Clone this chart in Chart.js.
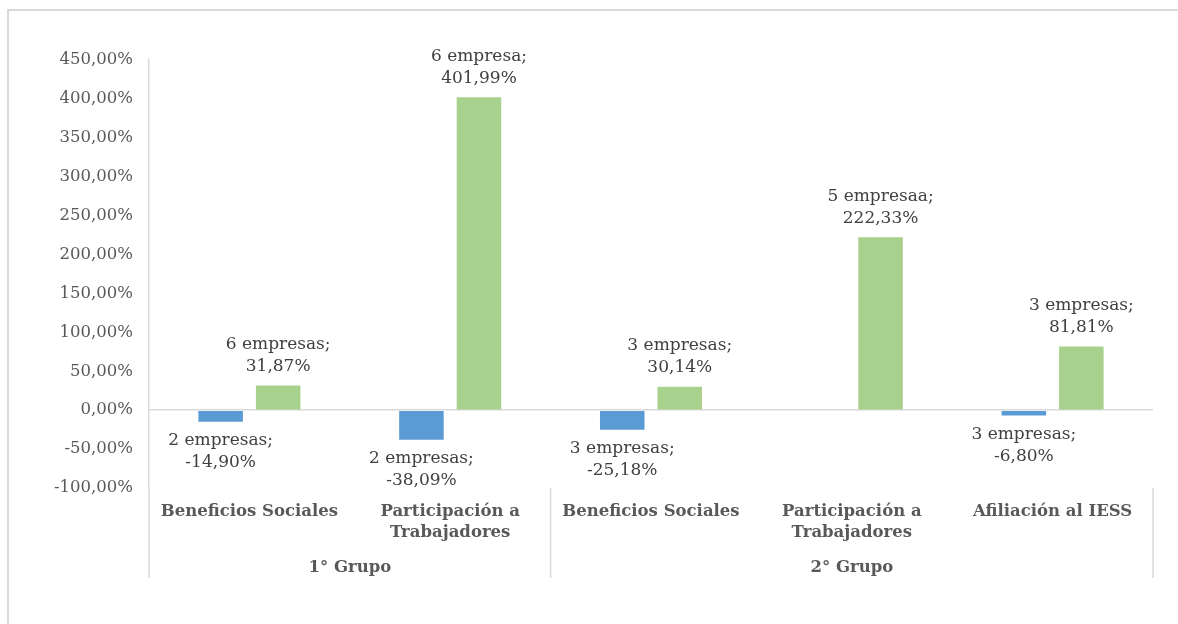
<!DOCTYPE html>
<html>
<head>
<meta charset="utf-8">
<title>Beneficios por grupo</title>
<script src="https://cdn.jsdelivr.net/npm/chart.js@4.4.1/dist/chart.umd.min.js"></script>
<style>
  html, body { margin: 0; padding: 0; background: #ffffff; overflow: hidden; }
  #wrap { position: absolute; left: 0; top: 0; width: 1178px; height: 624px; }
</style>
</head>
<body>
<div id="wrap"><canvas id="chart"></canvas></div>
<script>
// Chart data
const categoryLabels = [
  "Beneficios Sociales",
  ["Participación a", "Trabajadores"],
  "Beneficios Sociales",
  ["Participación a", "Trabajadores"],
  "Afiliación al IESS"
];
const groupNames = ["1° Grupo", "2° Grupo"];
const groupSizes = [2, 3];

const negativeValues = [-14.90, -38.09, -25.18, null, -6.80];
const positiveValues = [31.87, 401.99, 30.14, 222.33, 81.81];
const negativeCounts = ["2 empresas", "2 empresas", "3 empresas", null, "3 empresas"];
const positiveCounts = ["6 empresas", "6 empresa", "3 empresas", "5 empresaa", "3 empresas"];

const yMin = -100;
const yMax = 450;
const yStep = 50;

// Colors
const colors = {
  blue: "#5b9bd5",
  green: "#a9d18e",
  axis: "#d9d9d9",
  frame: "#d9d9d9",
  tickText: "#595959",
  labelText: "#404040"
};

const serif = "'DejaVu Serif', 'Liberation Serif', serif";

// "31.87" -> "31,87%"
function formatPct(v) {
  return v.toFixed(2).replace(".", ",") + "%";
}

// Outer chart frame (only the left and top edges fall inside the picture)
const framePlugin = {
  id: "frame",
  beforeDraw: function(chart) {
    const ctx = chart.ctx;
    ctx.save();
    ctx.strokeStyle = colors.frame;
    ctx.lineWidth = 2;
    ctx.beginPath();
    ctx.moveTo(8, chart.height);
    ctx.lineTo(8, 10);
    ctx.lineTo(chart.width, 10);
    ctx.stroke();
    ctx.restore();
  }
};

// Draws "N empresas; value" labels next to the end of each bar
const barLabelPlugin = {
  id: "barLabels",
  afterDatasetsDraw: function(chart) {
    const ctx = chart.ctx;
    ctx.save();
    ctx.font = "17px " + serif;
    ctx.fillStyle = colors.labelText;
    ctx.textAlign = "center";
    ctx.textBaseline = "middle";
    chart.data.datasets.forEach(function(ds, di) {
      const meta = chart.getDatasetMeta(di);
      meta.data.forEach(function(bar, i) {
        const v = ds.data[i];
        if (v === null || v === undefined) return;
        const first = ds.counts[i] + ";";
        const second = formatPct(v);
        if (v >= 0) {
          ctx.fillText(first, bar.x, bar.y - 41);
          ctx.fillText(second, bar.x, bar.y - 19);
        } else {
          ctx.fillText(first, bar.x, bar.y + 19);
          ctx.fillText(second, bar.x, bar.y + 41);
        }
      });
    });
    ctx.restore();
  }
};

// Second level of the category axis: group names and separators
const groupAxisPlugin = {
  id: "groupAxis",
  afterDraw: function(chart) {
    const ctx = chart.ctx;
    const area = chart.chartArea;
    const xs = chart.scales.x;
    const n = categoryLabels.length;
    const lineBottom = area.bottom + 90;

    function edge(i) {
      if (i <= 0) return area.left;
      if (i >= n) return area.right;
      return (xs.getPixelForValue(i - 1) + xs.getPixelForValue(i)) / 2;
    }

    ctx.save();
    ctx.strokeStyle = colors.axis;
    ctx.lineWidth = 1.5;
    ctx.fillStyle = colors.tickText;
    ctx.font = "bold 16.5px " + serif;
    ctx.textAlign = "center";
    ctx.textBaseline = "middle";

    let start = 0;
    const edges = [edge(0)];
    for (let g = 0; g < groupSizes.length; g++) {
      const end = start + groupSizes[g];
      const left = edge(start);
      const right = edge(end);
      edges.push(right);
      ctx.fillText(groupNames[g], (left + right) / 2, area.bottom + 80);
      start = end;
    }

    edges.forEach(function(px) {
      ctx.beginPath();
      ctx.moveTo(px, area.bottom);
      ctx.lineTo(px, lineBottom);
      ctx.stroke();
    });
    ctx.restore();
  }
};

Chart.defaults.font.family = serif;

const ctx = document.getElementById("chart").getContext("2d");
new Chart(ctx, {
  type: "bar",
  data: {
    labels: categoryLabels,
    datasets: [
      {
        label: "Disminución",
        data: negativeValues,
        counts: negativeCounts,
        backgroundColor: colors.blue,
        borderWidth: 0,
        barPercentage: 0.774,
        categoryPercentage: 0.573
      },
      {
        label: "Aumento",
        data: positiveValues,
        counts: positiveCounts,
        backgroundColor: colors.green,
        borderWidth: 0,
        barPercentage: 0.774,
        categoryPercentage: 0.573
      }
    ]
  },
  options: {
    responsive: true,
    maintainAspectRatio: false,
    animation: false,
    layout: {
      padding: { left: 0, right: 25, top: 60, bottom: 0 }
    },
    plugins: {
      legend: { display: false },
      tooltip: { enabled: false }
    },
    scales: {
      x: {
        grid: { display: false, drawTicks: false },
        border: { display: false },
        ticks: {
          color: colors.tickText,
          font: { family: serif, size: 16.5, weight: "bold", lineHeight: 1.3 },
          padding: 13,
          autoSkip: false,
          maxRotation: 0,
          minRotation: 0
        },
        afterFit: function(scale) { scale.height = 136; }
      },
      y: {
        min: yMin,
        max: yMax,
        grid: {
          drawTicks: false,
          lineWidth: 1.5,
          color: function(c) { return c.tick && c.tick.value === 0 ? colors.axis : "rgba(0,0,0,0)"; }
        },
        border: { display: true, color: colors.axis, width: 1.5 },
        ticks: {
          stepSize: yStep,
          color: colors.tickText,
          font: { family: serif, size: 16.5 },
          padding: 16,
          callback: function(value) { return formatPct(value); }
        },
        afterFit: function(scale) { scale.width = 149; }
      }
    }
  },
  plugins: [framePlugin, barLabelPlugin, groupAxisPlugin]
});
</script>
</body>
</html>
